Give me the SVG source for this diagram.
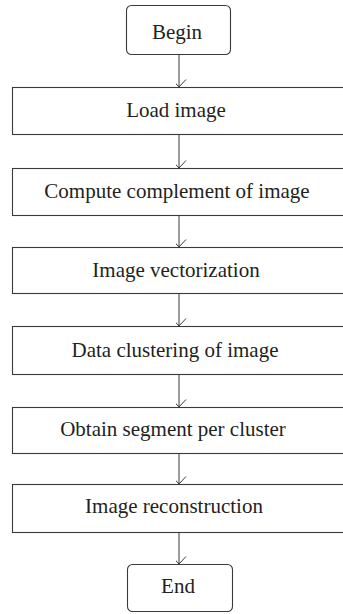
<svg xmlns="http://www.w3.org/2000/svg" width="343" height="614" viewBox="0 0 343 614">
<defs>
<style>
.box{fill:#fff;stroke:#3a3a3a;stroke-width:1.1}
.lbl{font-size:21px;fill:#231f20;text-anchor:middle}
.edge{stroke:#3a3a3a;stroke-width:1;fill:none;marker-end:url(#arr)}
</style>
<marker id="arr" markerUnits="userSpaceOnUse" markerWidth="16" markerHeight="12" viewBox="-8 -9 16 12" refX="0" refY="0" orient="auto-start-reverse">
<path d="M-7,-7.5 L0,0 L7,-7.5" transform="rotate(-90)" fill="none" stroke="#3a3a3a" stroke-width="1"/>
</marker>
</defs>
<rect width="343" height="614" fill="#fff"/>
<g id="connectors">
<line class="edge" x1="179" y1="54" x2="179" y2="87"/>
<line class="edge" x1="179" y1="134" x2="179" y2="168"/>
<line class="edge" x1="179" y1="215" x2="179" y2="247"/>
<line class="edge" x1="179" y1="293" x2="179" y2="326"/>
<line class="edge" x1="179" y1="374" x2="179" y2="407"/>
<line class="edge" x1="179" y1="453" x2="179" y2="484"/>
<line class="edge" x1="179" y1="532" x2="179" y2="564"/>
</g>
<g font-family="'Liberation Serif', 'Times New Roman', 'DejaVu Serif', serif">
<g id="begin">
<rect class="box" x="126.5" y="5.5" width="104" height="49" rx="5"/>
<text class="lbl" x="177" y="39">Begin</text>
</g>
<g id="load">
<rect class="box" x="12.5" y="87.5" width="334" height="47"/>
<text class="lbl" x="176" y="117">Load image</text>
</g>
<g id="complement">
<rect class="box" x="12.5" y="168.5" width="334" height="47"/>
<text class="lbl" x="177" y="198">Compute complement of image</text>
</g>
<g id="vectorization">
<rect class="box" x="12.5" y="247.5" width="334" height="46"/>
<text class="lbl" x="176" y="277">Image vectorization</text>
</g>
<g id="clustering">
<rect class="box" x="12.5" y="326.5" width="334" height="48"/>
<text class="lbl" x="175" y="357">Data clustering of image</text>
</g>
<g id="segment">
<rect class="box" x="12.5" y="407.5" width="334" height="46"/>
<text class="lbl" x="173" y="436">Obtain segment per cluster</text>
</g>
<g id="reconstruction">
<rect class="box" x="12.5" y="484.5" width="334" height="48"/>
<text class="lbl" x="174" y="513">Image reconstruction</text>
</g>
<g id="end">
<rect class="box" x="127.5" y="564.5" width="105" height="47" rx="5"/>
<text class="lbl" x="178" y="593">End</text>
</g>
</g>
</svg>
